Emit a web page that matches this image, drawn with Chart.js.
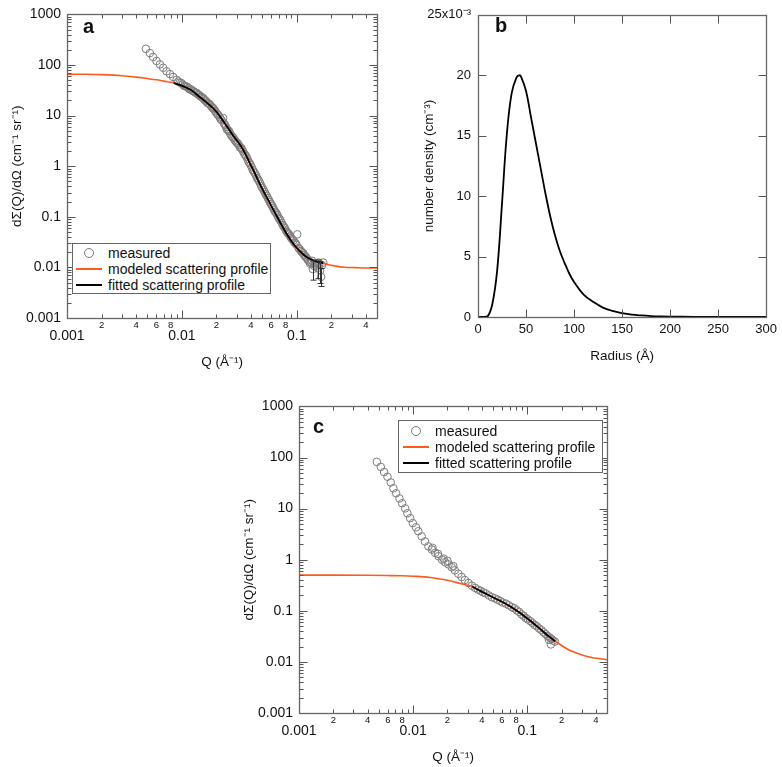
<!DOCTYPE html>
<html>
<head>
<meta charset="utf-8">
<script src="https://cdn.jsdelivr.net/npm/chart.js@4.4.0/dist/chart.umd.min.js"></script>
<style>
  body { margin: 0; background: #fff; width: 782px; height: 767px; position: relative; overflow: hidden;
         font-family: 'Liberation Sans', Arial, sans-serif; color: #111; }
  canvas { position: absolute; }
  .tag { position: absolute; font-weight: bold; font-size: 20px; line-height: 20px; }
  .legend { position: absolute; box-sizing: border-box; border: 1px solid #666; background: #fff; font-size: 14px; }
  .legend .row { position: absolute; left: 0; right: 0; height: 16px; line-height: 16px; }
  .legend .txt { position: absolute; top: 0; white-space: nowrap; }
  .legend .dot { position: absolute; top: 3px; width: 10px; height: 10px; box-sizing: border-box;
                 border: 1.3px solid #7a7a7a; border-radius: 50%; }
  .legend .ln { position: absolute; top: 7px; height: 2px; width: 26px; }
</style>
</head>
<body>
<canvas id="chartA" width="390" height="370" style="left:0;top:0"></canvas>
<canvas id="chartB" width="392" height="370" style="left:390px;top:0"></canvas>
<canvas id="chartC" width="388" height="373" style="left:232px;top:392px"></canvas>

<div class="tag" style="left:83px;top:16px">a</div>
<div class="tag" style="left:495px;top:15px">b</div>
<div class="tag" style="left:313px;top:416px">c</div>

<div class="legend" id="legendA" style="left:72px;top:243px;width:199px;height:51px"></div>
<div class="legend" id="legendC" style="left:398px;top:420px;width:205px;height:53px"></div>

<script>
// ---- panel a : measured / modeled / fitted scattering ----
const measQA = [0.00486, 0.00527, 0.00562, 0.00602, 0.00644, 0.00688, 0.00736, 0.00787, 0.0084, 0.0090,
  0.0096, 0.0102, 0.0108, 0.0114, 0.0120, 0.0127, 0.0134, 0.0141, 0.0148, 0.0155, 0.0162, 0.0170, 0.0178,
  0.0186, 0.0195, 0.0204, 0.0213, 0.0222, 0.0229, 0.0232, 0.0242, 0.0253, 0.0264, 0.0276, 0.0288, 0.0301,
  0.0314, 0.0328, 0.0342, 0.0357, 0.0373, 0.0389, 0.0406, 0.0424, 0.0443, 0.0462, 0.0482, 0.0503, 0.0525,
  0.0548, 0.0572, 0.0597, 0.0623, 0.0650, 0.0678, 0.0708, 0.0739, 0.0771, 0.0805, 0.0840, 0.0877, 0.0915,
  0.0955, 0.0997, 0.101, 0.104, 0.109, 0.114, 0.119, 0.124, 0.129, 0.133, 0.138, 0.143, 0.149, 0.155,
  0.160, 0.163, 0.166, 0.170];
const measIA = [209, 172, 144, 120, 103, 88, 75, 66, 58, 51,
  45, 41, 38, 35, 33, 30, 28, 25.5, 23.5, 21.5, 19.5, 17.5, 15.8,
  14.2, 12.3, 10.6, 9.3, 8.1, 8.9, 7.0, 6.0, 5.1, 4.4, 3.8, 3.3, 2.9,
  2.6, 2.3, 1.95, 1.65, 1.38, 1.15, 0.95, 0.78, 0.65, 0.54, 0.45, 0.37, 0.31,
  0.26, 0.215, 0.18, 0.15, 0.125, 0.108, 0.09, 0.076, 0.064, 0.054, 0.047, 0.041, 0.036,
  0.031, 0.028, 0.045, 0.024, 0.021, 0.019, 0.0165, 0.0145, 0.013, 0.0125, 0.0093, 0.0115, 0.0105, 0.0125,
  0.0087, 0.0065, 0.011, 0.0125];
// second, overlapping detector setting
const measQA2 = [0.0093, 0.0099, 0.0105, 0.0111, 0.0117, 0.0124, 0.0131, 0.0138, 0.0145, 0.0152, 0.0159,
  0.0166, 0.0174, 0.0182, 0.019, 0.0199, 0.0208, 0.0217, 0.0237, 0.0247, 0.0258, 0.027, 0.0282, 0.0294,
  0.0307, 0.0321, 0.0335, 0.035, 0.0365, 0.0381, 0.0397, 0.0415, 0.0433, 0.0452, 0.0472, 0.0492, 0.0514,
  0.0536, 0.056, 0.0584, 0.061, 0.0636, 0.0664, 0.0693, 0.0723, 0.0755, 0.0788, 0.0822, 0.0858, 0.0896,
  0.0935, 0.0976, 0.106, 0.111, 0.116, 0.121, 0.126, 0.131, 0.136, 0.141, 0.146, 0.152, 0.157];
const measIA2 = [47, 44, 38.5, 37, 33, 31, 28.5, 26.5, 24, 22.5, 20,
  18, 16.8, 14.8, 13.4, 11.4, 10.2, 8.6, 6.6, 5.4, 4.9, 4.0, 3.6, 3.1,
  2.8, 2.35, 2.15, 1.75, 1.55, 1.22, 1.06, 0.84, 0.72, 0.58, 0.50, 0.40, 0.34,
  0.28, 0.235, 0.195, 0.165, 0.136, 0.118, 0.097, 0.084, 0.069, 0.060, 0.050, 0.045, 0.038,
  0.034, 0.030, 0.023, 0.020, 0.0175, 0.0158, 0.0138, 0.0118, 0.0135, 0.0108, 0.0122, 0.0098, 0.0115];
const errQA = [0.138, 0.152, 0.160, 0.163];
const errLoA = [0.0056, 0.0060, 0.0048, 0.0042];
const errHiA = [0.0135, 0.0140, 0.0130, 0.0095];
const modelQA = [0.001, 0.0015, 0.002, 0.003, 0.004, 0.005, 0.006, 0.007, 0.008, 0.0085, 0.010, 0.012,
  0.0144, 0.0165, 0.0187, 0.021, 0.0229, 0.0255, 0.028, 0.0305, 0.033, 0.036, 0.039, 0.0425, 0.046, 0.050,
  0.055, 0.060, 0.066, 0.073, 0.081, 0.090, 0.099, 0.110, 0.121, 0.135, 0.148, 0.160, 0.170, 0.19, 0.22,
  0.26, 0.32, 0.4, 0.5];
const modelIA = [66, 65.5, 64.5, 61.5, 57.5, 54, 51, 48, 45.5, 44, 39, 32,
  23, 18, 14, 10.3, 7.8, 5.5, 4.0, 3.1, 2.4, 1.7, 1.15, 0.78, 0.53, 0.36,
  0.24, 0.165, 0.11, 0.072, 0.048, 0.033, 0.025, 0.0195, 0.0163, 0.0142, 0.0131, 0.0125, 0.0121, 0.0113, 0.0106,
  0.0101, 0.0099, 0.0097, 0.0097];
const fitQA = [0.0085, 0.010, 0.012, 0.0144, 0.0165, 0.0187, 0.021, 0.0229, 0.0255, 0.028, 0.0305, 0.033,
  0.036, 0.039, 0.0425, 0.046, 0.050, 0.055, 0.060, 0.066, 0.073, 0.081, 0.090, 0.099, 0.110, 0.121, 0.135,
  0.148, 0.160, 0.170];
const fitIA = [44, 39, 32, 23, 18, 14, 10.3, 7.8, 5.5, 4.0, 3.1, 2.4,
  1.7, 1.15, 0.78, 0.53, 0.36, 0.24, 0.165, 0.11, 0.072, 0.048, 0.033, 0.025, 0.0195, 0.0163, 0.0142,
  0.0131, 0.0125, 0.0121];

// ---- panel b : size distribution ----
const radiusB = [0, 5, 10, 15, 20, 25, 30, 35, 40, 43, 45, 50, 55, 60, 65, 70, 75, 80, 85, 90, 95, 100,
  110, 120, 130, 140, 150, 160, 170, 180, 190, 200, 225, 250, 275, 300];
const densityB = [0, 0, 0.00005, 0.0011, 0.0039, 0.0094, 0.0151, 0.0185, 0.0198, 0.0200, 0.01985, 0.0187,
  0.0166, 0.0145, 0.0124, 0.0103, 0.0084, 0.0068, 0.0055, 0.0045, 0.0036, 0.0029,
  0.00185, 0.00125, 0.00078, 0.0005, 0.00032, 0.0002, 0.00013, 0.00008, 0.00005, 0.000035, 0.000012,
  0.000004, 0.000001, 0];

// ---- panel c ----
const measQC = [0.00481, 0.00521, 0.00557, 0.00596, 0.00637, 0.00672, 0.0071, 0.00759, 0.00801, 0.00851,
  0.00891, 0.00942, 0.00994, 0.0106, 0.0111, 0.0119, 0.0127, 0.0136, 0.0146, 0.0148, 0.0156, 0.0165, 0.0167,
  0.0179, 0.0185, 0.0191, 0.0200, 0.0204, 0.0218, 0.0225, 0.0232, 0.0249, 0.0266, 0.0284, 0.0305, 0.0327,
  0.035, 0.037, 0.039, 0.041, 0.043, 0.046, 0.049, 0.052, 0.055, 0.058, 0.061, 0.065, 0.069, 0.073, 0.077,
  0.081, 0.085, 0.089, 0.093, 0.097, 0.101, 0.106, 0.111, 0.116, 0.121, 0.127, 0.133, 0.139, 0.145, 0.151,
  0.155, 0.157, 0.161, 0.163, 0.169, 0.175];
const measIC = [82, 65.5, 52, 42, 32.5, 25, 20, 15.8, 12.7, 10.1,
  8.1, 6.5, 5.2, 4.3, 3.6, 2.86, 2.28, 1.83, 1.58, 1.7, 1.36, 1.3, 1.17,
  1.0, 1.05, 0.89, 0.95, 0.81, 0.71, 0.75, 0.62, 0.53, 0.46, 0.40, 0.35, 0.31,
  0.28, 0.26, 0.245, 0.23, 0.22, 0.20, 0.185, 0.175, 0.165, 0.155, 0.145, 0.138, 0.128, 0.118, 0.112,
  0.102, 0.095, 0.085, 0.08, 0.072, 0.068, 0.063, 0.058, 0.053, 0.05, 0.045, 0.042, 0.038, 0.035, 0.032,
  0.027, 0.030, 0.022, 0.028, 0.026, 0.025];
const modelQC = [0.001, 0.002, 0.004, 0.006, 0.008, 0.010, 0.0141, 0.0197, 0.0276, 0.033, 0.0387, 0.0474,
  0.0619, 0.0812, 0.106, 0.130, 0.159, 0.176, 0.238, 0.334, 0.5];
const modelIC = [0.50, 0.50, 0.495, 0.49, 0.485, 0.475, 0.45, 0.40, 0.33, 0.30, 0.245, 0.195,
  0.145, 0.10, 0.064, 0.044, 0.030, 0.0254, 0.0167, 0.0128, 0.011];
const fitQC = [0.033, 0.0387, 0.0474, 0.0619, 0.0812, 0.106, 0.130, 0.159, 0.176];
const fitIC = [0.30, 0.245, 0.195, 0.145, 0.10, 0.064, 0.044, 0.030, 0.0254];

// ---- axis ticks ----
const qMajorTicks = [0.001, 0.01, 0.1];
const qMinorLabelTicks = [0.002, 0.004, 0.006, 0.008, 0.02, 0.04, 0.06, 0.08, 0.2, 0.4];
const iTicks = [0.001, 0.01, 0.1, 1, 10, 100, 1000];
const radiusTicks = [0, 50, 100, 150, 200, 250, 300];
const densityTicks = [0, 0.005, 0.01, 0.015, 0.02, 0.025];

const labels = ['measured', 'modeled scattering profile', 'fitted scattering profile'];
const ORANGE = '#ff5a1e';
const FONT = "'Liberation Sans', Arial, sans-serif";
Chart.defaults.font.family = FONT;
Chart.defaults.color = '#111';

const pts = (xs, ys) => xs.map((x, i) => ({ x: x, y: ys[i] }));

function logMarks(min, max) {
  const out = [];
  for (let e = Math.floor(Math.log10(min)) - 1; e <= Math.ceil(Math.log10(max)); e++) {
    for (let s = 1; s <= 9; s++) {
      const v = s * Math.pow(10, e);
      if (v >= min * 0.999 && v <= max * 1.001) out.push({ v: v, major: s === 1 });
    }
  }
  return out;
}
function markList(scale, isLog, tickVals) {
  if (isLog) return logMarks(scale.min, scale.max);
  return tickVals.map(v => ({ v: v, major: true }));
}

// box around the plot with inward ticks on all four sides
function framePlugin(isLog, xVals, yVals) {
  return {
    id: 'frame',
    afterDraw(chart) {
      const ctx = chart.ctx, a = chart.chartArea;
      const xs = chart.scales.x, ys = chart.scales.y;
      const L = Math.round(a.left) + 0.5, R = Math.round(a.right) + 0.5;
      const T = Math.round(a.top) + 0.5, B = Math.round(a.bottom) + 0.5;
      ctx.save();
      ctx.strokeStyle = '#555';
      ctx.lineWidth = 1;
      ctx.beginPath();
      markList(xs, isLog, xVals).forEach(m => {
        const p = Math.round(xs.getPixelForValue(m.v)) + 0.5;
        const len = m.major ? 8 : 4;
        ctx.moveTo(p, B); ctx.lineTo(p, B - len);
        ctx.moveTo(p, T); ctx.lineTo(p, T + len);
      });
      markList(ys, isLog, yVals).forEach(m => {
        const p = Math.round(ys.getPixelForValue(m.v)) + 0.5;
        const len = m.major ? 8 : 4;
        ctx.moveTo(L, p); ctx.lineTo(L + len, p);
        ctx.moveTo(R, p); ctx.lineTo(R - len, p);
      });
      ctx.stroke();
      ctx.strokeStyle = '#666';
      ctx.lineWidth = 1.3;
      ctx.strokeRect(L, T, R - L, B - T);
      ctx.restore();
    }
  };
}

const errorBarPlugin = {
  id: 'errbars',
  afterDatasetsDraw(chart, args, opts) {
    if (!opts.q) return;
    const ctx = chart.ctx, xs = chart.scales.x, ys = chart.scales.y;
    ctx.save();
    ctx.strokeStyle = '#333';
    ctx.lineWidth = 1;
    ctx.beginPath();
    opts.q.forEach((q, i) => {
      const x = Math.round(xs.getPixelForValue(q)) + 0.5;
      const y1 = ys.getPixelForValue(opts.lo[i]), y2 = ys.getPixelForValue(opts.hi[i]);
      ctx.moveTo(x, y1); ctx.lineTo(x, y2);
      ctx.moveTo(x - 3, y1); ctx.lineTo(x + 3, y1);
      ctx.moveTo(x - 3, y2); ctx.lineTo(x + 3, y2);
    });
    ctx.stroke();
    ctx.restore();
  }
};

function scatteringChart(id, meas, model, fit, err) {
  return new Chart(document.getElementById(id), {
    type: 'scatter',
    data: {
      datasets: [
        { label: labels[2], data: fit, showLine: true, pointRadius: 0, borderColor: '#000', borderWidth: 1.8,
          cubicInterpolationMode: 'monotone' },
        { label: labels[1], data: model, showLine: true, pointRadius: 0, borderColor: ORANGE, borderWidth: 1.6,
          cubicInterpolationMode: 'monotone' },
        { label: labels[0], data: meas, pointRadius: 3.8, pointStyle: 'circle', borderColor: '#7c7c7c',
          backgroundColor: 'rgba(0,0,0,0)', borderWidth: 1 }
      ]
    },
    options: {
      responsive: false,
      animation: false,
      layout: { padding: { left: 0, top: 12, right: 13, bottom: 0 } },
      plugins: { legend: { display: false }, tooltip: { enabled: false }, errbars: err || {} },
      scales: {
        x: {
          type: 'logarithmic', position: 'bottom', weight: 2, min: 0.001, max: 0.5,
          grid: { display: false, drawTicks: false }, border: { display: false },
          afterBuildTicks: s => { s.ticks = qMajorTicks.map(v => ({ value: v })); },
          afterFit: s => { s.height = 42; },
          ticks: { autoSkip: false, maxRotation: 0, padding: 0, font: { size: 14 }, callback: v => String(v) },
          title: { display: true, text: 'Q (Å⁻¹)', font: { size: 13.5 }, padding: { top: 0, bottom: 0 } }
        },
        xm: {
          type: 'logarithmic', position: 'bottom', weight: 1, min: 0.001, max: 0.5,
          grid: { display: false, drawTicks: false }, border: { display: false },
          afterBuildTicks: s => { s.ticks = qMinorLabelTicks.map(v => ({ value: v })); },
          afterFit: s => { s.height = 10; },
          ticks: { autoSkip: false, maxRotation: 0, padding: 2, font: { size: 9.5 },
            callback: v => String(Math.round(v / Math.pow(10, Math.floor(Math.log10(v) + 1e-9)))) }
        },
        y: {
          type: 'logarithmic', position: 'left', min: 0.001, max: 1000,
          grid: { display: false, drawTicks: false }, border: { display: false },
          afterBuildTicks: s => { s.ticks = iTicks.map(v => ({ value: v })); },
          afterFit: s => { s.width = 67; },
          ticks: { autoSkip: false, padding: 6, font: { size: 14 }, callback: v => String(v) },
          title: { display: true, text: 'dΣ(Q)/dΩ (cm⁻¹ sr⁻¹)', font: { size: 13.5 }, padding: { top: 9, bottom: 0 } }
        }
      }
    },
    plugins: [framePlugin(true), errorBarPlugin]
  });
}

scatteringChart('chartA', pts(measQA.concat(measQA2), measIA.concat(measIA2)), pts(modelQA, modelIA),
  pts(fitQA, fitIA), { q: errQA, lo: errLoA, hi: errHiA });
scatteringChart('chartC', pts(measQC, measIC), pts(modelQC, modelIC), pts(fitQC, fitIC));

new Chart(document.getElementById('chartB'), {
  type: 'scatter',
  data: {
    datasets: [{ label: 'number density', data: pts(radiusB, densityB), showLine: true, pointRadius: 0,
      borderColor: '#000', borderWidth: 1.8, tension: 0.4 }]
  },
  options: {
    responsive: false,
    animation: false,
    layout: { padding: { left: 0, top: 10, right: 14, bottom: 0 } },
    plugins: { legend: { display: false }, tooltip: { enabled: false } },
    scales: {
      x: {
        type: 'linear', min: 0, max: 300,
        grid: { display: false, drawTicks: false }, border: { display: false },
        afterBuildTicks: s => { s.ticks = radiusTicks.map(v => ({ value: v })); },
        afterFit: s => { s.height = 53; },
        ticks: { autoSkip: false, maxRotation: 0, padding: 5, font: { size: 13 }, callback: v => String(v) },
        title: { display: true, text: 'Radius (Å)', font: { size: 13.5 }, padding: { top: 0, bottom: 6 } }
      },
      y: {
        type: 'linear', min: 0, max: 0.025,
        grid: { display: false, drawTicks: false }, border: { display: false },
        afterBuildTicks: s => { s.ticks = densityTicks.map(v => ({ value: v })); },
        afterFit: s => { s.width = 88; },
        ticks: { autoSkip: false, padding: 7, font: { size: 13 },
          callback: v => Math.round(v * 1000) === 25 ? '25x10⁻³' : String(Math.round(v * 1000)) },
        title: { display: true, text: 'number density (cm⁻³)', font: { size: 13.5 }, padding: { top: 31, bottom: 0 } }
      }
    }
  },
  plugins: [framePlugin(false, radiusTicks, densityTicks)]
});

// legends
function buildLegend(id, rowTops, symX, txtX) {
  const box = document.getElementById(id);
  labels.forEach((text, i) => {
    const row = document.createElement('div');
    row.className = 'row';
    row.style.top = rowTops[i] + 'px';
    const sym = document.createElement('div');
    if (i === 0) {
      sym.className = 'dot';
      sym.style.left = (symX + 8) + 'px';
    } else {
      sym.className = 'ln';
      sym.style.left = symX + 'px';
      sym.style.background = i === 1 ? ORANGE : '#000';
    }
    const t = document.createElement('span');
    t.className = 'txt';
    t.style.left = txtX + 'px';
    t.textContent = text;
    row.appendChild(sym);
    row.appendChild(t);
    box.appendChild(row);
  });
}
buildLegend('legendA', [1, 17, 33], 3, 35);
buildLegend('legendC', [2, 18, 34], 4, 36);
</script>
</body>
</html>
